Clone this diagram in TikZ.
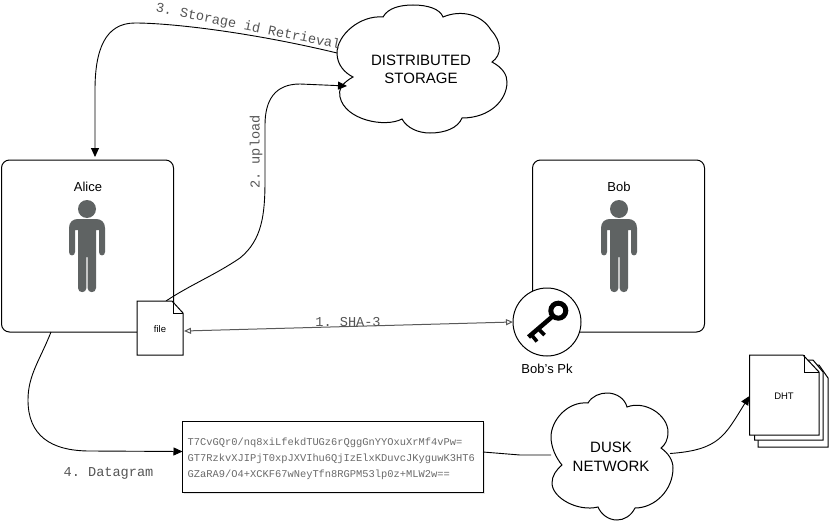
\documentclass[tikz,border=0pt]{standalone}
\usepackage{fontspec}
\setmainfont{Liberation Sans}
\setmonofont{Liberation Mono}
\usetikzlibrary{arrows.meta}
\definecolor{persongray}{HTML}{5F6363}
\definecolor{monogray}{HTML}{555555}
\definecolor{hashgray}{HTML}{6A6A6A}
\tikzset{
  actorbox/.style={draw=black,line width=1pt,rounded corners=8pt,minimum width=172pt,minimum height=172pt,inner sep=0pt,outer sep=0pt},
  ghost/.style={inner sep=0pt,outer sep=0pt,align=center,font=\fontsize{15}{18.5}\selectfont},
  sans/.style={inner sep=0pt,font=\fontsize{13}{15}\selectfont},
  small/.style={inner sep=0pt,font=\fontsize{9.5}{11}\selectfont},
  mono/.style={inner sep=0pt,text=monogray,font=\ttfamily\fontsize{13.6}{15}\selectfont},
  hash/.style={inner sep=0pt,text=hashgray,anchor=west,font=\ttfamily\fontsize{10.4}{12}\selectfont},
  link/.style={draw=black,line width=0.9pt},
  solidtip/.style={-{Triangle[length=9pt,width=8pt]}},
  opentips/.style={{Triangle[open,length=7pt,width=6pt]}-{Triangle[open,length=7pt,width=6pt]},draw=black!65},
  edge/.style={draw=black,line width=1pt,fill=white},
}
\newcommand{\personshape}[1]{%
  \begin{scope}[shift={(#1,0)}]
    \fill[persongray] (0,209) circle (9);
    \fill[persongray] (-18,228) .. controls (-18,222) and (-14,219) .. (-9,219) -- (9,219)
      .. controls (14,219) and (18,222) .. (18,228) -- (18,252) .. controls (18,256.5) and (12,256.5) .. (12,252)
      -- (12,230) -- (9,230) -- (9,288) .. controls (9,293.5) and (0.6,293.5) .. (0.6,288) -- (0.6,257) -- (-0.6,257)
      -- (-0.6,288) .. controls (-0.6,293.5) and (-9,293.5) .. (-9,288) -- (-9,230) -- (-12,230) -- (-12,252)
      .. controls (-12,256.5) and (-18,256.5) .. (-18,252) -- cycle;
  \end{scope}}
\begin{document}
\begin{tikzpicture}[x=1pt,y=-1pt]
\useasboundingbox (0,0) rectangle (829,524);
\fill[white] (0,0) rectangle (829,524);

% actors
\node[actorbox] (alice) at (87.5,246) {};
\node[actorbox] (bob) at (618.5,246) {};
\node[sans] (alicelabel) at (88,187) {Alice};
\node[sans] (boblabel) at (619,187) {Bob};
\personshape{87}
\personshape{619}

% distributed storage cloud
\draw[edge] (383,17) .. controls (388,8) and (400,5) .. (413,5) .. controls (428,5) and (440,9) .. (443,17)
  .. controls (462,9) and (482,15) .. (491,30) .. controls (502,42) and (502,55) .. (492,62)
  .. controls (503,68) and (507,75) .. (507,82) .. controls (507,100) and (490,118) .. (462,118)
  .. controls (458,128) and (445,133) .. (430,133) .. controls (418,133) and (407,128) .. (402,119)
  .. controls (385,128) and (345,120) .. (340,97) .. controls (338,90) and (342,83) .. (353,77)
  .. controls (345,73) and (337,65) .. (337,53) .. controls (337,35) and (360,15) .. (383,17) -- cycle;
\node[ghost,minimum width=170pt,minimum height=128pt] (storage) at (422,69) {};
\node[ghost] (storagelabel) at (421,69.5) {DISTRIBUTED\\STORAGE};

% dusk cloud
\draw[edge] (588,403) .. controls (592,396) and (600,393) .. (607,393) .. controls (617,393) and (625,399) .. (627,407)
  .. controls (645,400) and (668,415) .. (668,432) .. controls (668,440) and (665,445) .. (661,448)
  .. controls (668,453) and (673,460) .. (673,468) .. controls (673,490) and (655,508) .. (635,508)
  .. controls (631,516) and (624,520) .. (617,520) .. controls (608,520) and (601,514) .. (598,507)
  .. controls (578,512) and (552,498) .. (552,483) .. controls (552,476) and (556,470) .. (562,465)
  .. controls (556,458) and (551,447) .. (551,437) .. controls (551,420) and (568,401) .. (588,403) -- cycle;
\node[ghost,minimum width=122pt,minimum height=127pt] (dusk) at (612,456.5) {};
\node[ghost] (dusklabel) at (611,457) {DUSK\\NETWORK};

% file node (for connector anchors)
\node[inner sep=0pt,outer sep=0pt,minimum width=46pt,minimum height=54pt] (file) at (160,328) {};
% hash node
\node[minimum width=300.5pt,minimum height=71pt,inner sep=0pt,outer sep=0pt] (hashbox) at (332.75,456.5) {};
% DHT node
\node[inner sep=0pt,outer sep=0pt,minimum width=70pt,minimum height=80pt] (dht) at (784.5,395) {};

% connectors under the icons
\draw[link,solidtip] ([yshift=16pt]storage.west) .. controls (250,32) and (170,23) .. (135,23)
  .. controls (105,23) and (95,50) .. (95,90) -- ([xshift=7.5pt,yshift=3pt]alice.north);
\draw[link,solidtip] ([xshift=6pt]file.north) .. controls (190,285) and (215,275) .. (240,258)
  .. controls (262,240) and (265,215) .. (265,180) -- (265,125) .. controls (265,100) and (275,84) .. (300,84)
  -- ([xshift=10pt,yshift=-17pt]storage.west);
\draw[link,solidtip] ([xshift=-36.5pt]alice.south) .. controls (40,360) and (28,375) .. (28,400)
  .. controls (28,435) and (50,451) .. (90,451) -- ([yshift=5pt]hashbox.west);
\draw[link,solidtip] ([xshift=-3pt,yshift=3pt]dusk.east) .. controls (720,450) and (725,435) .. ([yshift=-1pt]dht.west);

% file
\draw[edge] (137,301) -- (172,301) -- (183,313) -- (183,355) -- (137,355) -- cycle;
\draw[draw=black,line width=0.8pt] (173,301) -- (173,313) -- (183,313);
\node[small] (filelabel) at (160,329) {file};

% hash box
\fill[black!10] (184,423) rectangle (485,494);
\draw[edge] (hashbox.south west) rectangle (hashbox.north east);
\node[hash] (hash1) at (187.5,443) {T7CvGQr0/nq8xiLfekdTUGz6rQggGnYYOxuXrMf4vPw=};
\node[hash] (hash2) at (187.5,459) {GT7RzkvXJIPjT0xpJXVIhu6QjIzElxKDuvcJKyguwK3HT6};
\node[hash] (hash3) at (187.5,475) {GZaRA9/O4+XCKF67wNeyTfn8RGPM53lp0z+MLW2w==};
\draw[link] ([yshift=4.5pt]hashbox.east) -- (520,455) -- ([yshift=1.5pt]dusk.west);

% key circle
\node[circle,draw=black,line width=1pt,fill=white,minimum size=68pt,inner sep=0pt,outer sep=0pt] (pk) at (547,322) {};
\draw[black,line width=5pt] (558.3,310.7) circle (7.5);
\draw[black,line width=4.5pt] (553,316) -- (528.5,337);
\draw[black,line width=3.6pt] (532,335.5) -- (537,341.5);
\draw[black,line width=3.6pt] (539.5,330) -- (544.5,335);
\node[sans] (pklabel) at (547,369) {Bob’s Pk};

% double arrow
\draw[line width=1pt,opentips] ([xshift=1pt,yshift=-3pt]file.east) -- (pk.west);

% DHT pages
\draw[edge] (758,365) -- (819,365) -- (828,378) -- (828,447) -- (758,447) -- cycle;
\draw[edge] (754.5,360) -- (813,360) -- (823,372) -- (823,440) -- (754.5,440) -- cycle;
\draw[edge] (749.5,355) -- (803,355) -- (819,372) -- (819,435) -- (749.5,435) -- cycle;
\draw[draw=black,line width=0.8pt] (804,355) -- (804,372) -- (819,372);
\node[small] (dhtlabel) at (784,396.5) {DHT};

% connector labels
\node[mono,rotate=-11.4] (l3) at (248,27) {3. Storage id Retrieval};
\node[mono,rotate=90] (l2) at (256,152) {2. upload};
\node[mono] (l1) at (348,322) {1. SHA-3};
\node[mono] (l4) at (108.5,473) {4. Datagram};
\end{tikzpicture}
\end{document}
